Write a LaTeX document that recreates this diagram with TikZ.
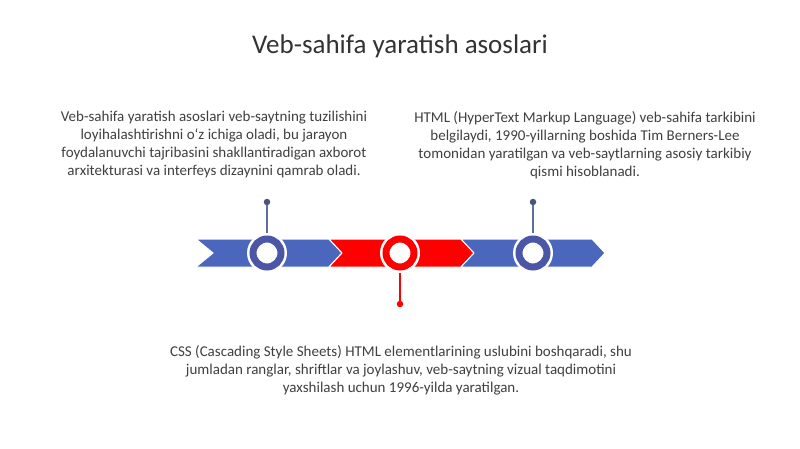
\documentclass[tikz,border=0pt]{standalone}
\usepackage{fontspec}
\setmainfont{Carlito}
\definecolor{txt}{HTML}{404040}
\definecolor{ttl}{HTML}{333333}
\definecolor{bandblue}{HTML}{4A66BD}
\definecolor{ringblue}{HTML}{4B56A6}
\definecolor{bandred}{HTML}{FF0000}
\definecolor{stemblue}{HTML}{5F6F9E}
\definecolor{dotblue}{HTML}{4A5578}
\begin{document}
\begin{tikzpicture}[x=1pt,y=-1pt,
  body/.style={text=txt,align=center,font=\fontsize{15}{18}\selectfont,inner sep=0},
  chev/.style={draw=white,line width=1pt},
  ring/.style={circle,minimum size=28pt,inner sep=0,line width=7pt,draw=#1,fill=white},
  halo/.style={circle,minimum size=40pt,inner sep=0,fill=white},
  stem/.style={line width=1.3pt,draw=#1},
  dot/.style={circle,minimum size=6.5pt,inner sep=0,fill=#1}]
\useasboundingbox (0,0) rectangle (800,449);
\fill[white] (0,0) rectangle (800,449);
\node[text=ttl,font=\fontsize{27}{32}\selectfont] (title) at (400,46) {Veb-sahifa yaratish asoslari};
% chevrons
\fill[chev,fill=bandblue] (196,239) -- (329,239) -- (342,253) -- (329,267) -- (196,267) -- (213,253) -- cycle;
\fill[chev,fill=bandred] (329,239) -- (461,239) -- (474,253) -- (461,267) -- (329,267) -- (342,253) -- cycle;
\fill[chev,fill=bandblue] (461,239) -- (592,239) -- (605,253) -- (592,267) -- (461,267) -- (474,253) -- cycle;
% stems
\node[dot=dotblue] (d1) at (267,202) {};
\node[dot=bandred] (d2) at (400,304) {};
\node[dot=dotblue] (d3) at (533,202) {};
\coordinate (c1) at (267,253);
\coordinate (c2) at (400,253);
\coordinate (c3) at (533,253);
\draw[stem=stemblue] (d1) -- (c1);
\draw[stem=bandred] (d2) -- (c2);
\draw[stem=stemblue] (d3) -- (c3);
% rings
\node[halo] at (c1) {};
\node[halo] at (c2) {};
\node[halo] at (c3) {};
\node[ring=ringblue] (r1) at (c1) {};
\node[ring=bandred] (r2) at (c2) {};
\node[ring=ringblue] (r3) at (c3) {};
% texts
\node[body] (t1) at (214,145) {Veb-sahifa yaratish asoslari veb-saytning tuzilishini\\loyihalashtirishni o‘z ichiga oladi, bu jarayon\\foydalanuvchi tajribasini shakllantiradigan axborot\\arxitekturasi va interfeys dizaynini qamrab oladi.};
\node[body] (t2) at (585,145) {HTML (HyperText Markup Language) veb-sahifa tarkibini\\belgilaydi, 1990-yillarning boshida Tim Berners-Lee\\tomonidan yaratilgan va veb-saytlarning asosiy tarkibiy\\qismi hisoblanadi.};
\node[body] (t3) at (401,370) {CSS (Cascading Style Sheets) HTML elementlarining uslubini boshqaradi, shu\\jumladan ranglar, shriftlar va joylashuv, veb-saytning vizual taqdimotini\\yaxshilash uchun 1996-yilda yaratilgan.};
\end{tikzpicture}
\end{document}
